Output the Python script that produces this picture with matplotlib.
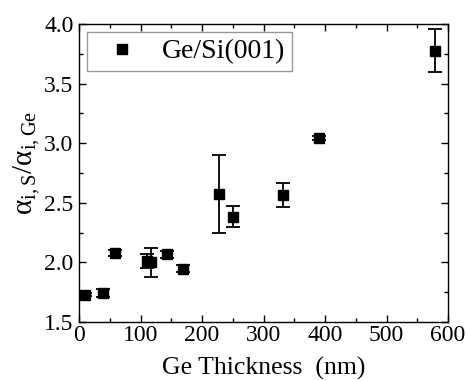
import numpy as np
import matplotlib.pyplot as plt
from matplotlib.ticker import MultipleLocator
from matplotlib.lines import Line2D

plt.rcParams['font.family'] = ['Liberation Serif', 'DejaVu Serif']
plt.rcParams['mathtext.fontset'] = 'custom'
plt.rcParams['mathtext.rm'] = 'Liberation Serif'
plt.rcParams['mathtext.it'] = 'Liberation Serif'

# data
thickness = [10, 39, 58, 110, 117, 143, 169, 228, 250, 331, 391, 579]
ratio     = [1.73, 1.745, 2.078, 2.014, 2.0, 2.067, 1.947, 2.574, 2.384, 2.563, 3.045, 3.776]
ratio_err = [0.015, 0.035, 0.025, 0.06, 0.12, 0.03, 0.03, 0.33, 0.09, 0.10, 0.015, 0.18]

fig = plt.figure(figsize=(4.66, 3.8), dpi=100)
ax = fig.add_axes([79/466, 1 - 322/380, (448-79)/466, (322-24)/380])

ax.errorbar(thickness, ratio, yerr=ratio_err, fmt='s', color='black',
            markersize=7, capsize=5, elinewidth=1.3, capthick=1.3)

ax.set_xlim(0, 600)
ax.set_ylim(1.5, 4.0)
ax.xaxis.set_major_locator(MultipleLocator(100))
ax.xaxis.set_minor_locator(MultipleLocator(50))
ax.yaxis.set_major_locator(MultipleLocator(0.5))
ax.yaxis.set_minor_locator(MultipleLocator(0.25))
ax.yaxis.set_major_formatter(plt.FormatStrFormatter('%.1f'))
ax.tick_params(which='both', direction='in', top=True, right=True, labelsize=17, width=1)
ax.tick_params(axis='x', pad=2)
ax.tick_params(axis='y', pad=4)
ax.tick_params(which='major', length=5)
ax.tick_params(which='minor', length=3)
for s in ax.spines.values():
    s.set_linewidth(1.0)

ax.set_xlabel('Ge Thickness  (nm)', fontsize=18.5, labelpad=8)
ax.set_ylabel(r'$\mathrm{\alpha_{i,S}/\alpha_{i,Ge}}$', fontsize=21)
ax.yaxis.set_label_coords(-0.1, 0.535)

proxy = Line2D([], [], linestyle='none', marker='s', color='black', markersize=7)
leg = ax.legend([proxy], ['Ge/Si(001)'], loc='upper left', fontsize=20, frameon=True,
                fancybox=False, edgecolor='grey', handlelength=2.0, handletextpad=0.45,
                borderpad=0.25, borderaxespad=0, bbox_to_anchor=(0.022, 0.973))
leg.get_frame().set_linewidth(1.0)

fig.savefig('out.png', dpi=100)
